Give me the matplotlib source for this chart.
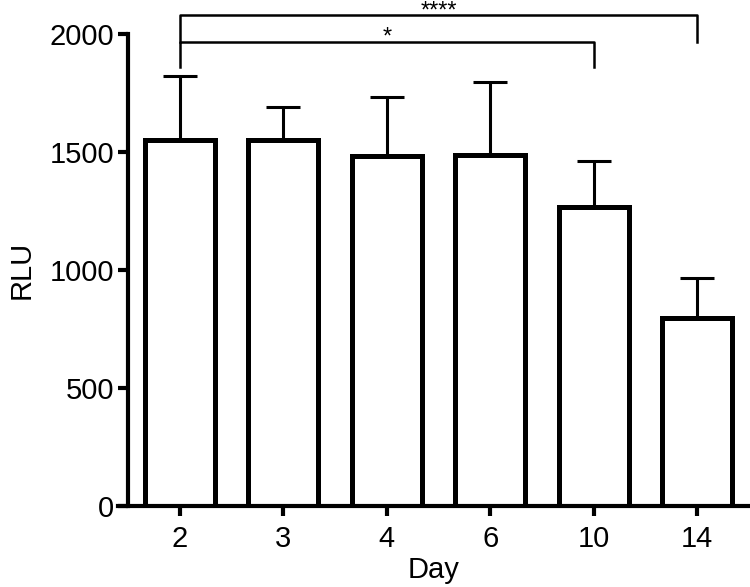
import matplotlib.pyplot as plt
import numpy as np

plt.rcParams['font.family'] = ['Liberation Sans', 'DejaVu Sans']

days = ["2", "3", "4", "6", "10", "14"]
rlu_mean = [1551, 1551, 1483, 1487, 1267, 797]
rlu_sd = [272, 140, 250, 310, 195, 169]

# significance comparisons: (index a, index b, label, bracket height, leg bottom)
comparisons = [
    (0, 4, "*", 1966, 1860),
    (0, 5, "****", 2080, 1966),
]

fig = plt.figure(figsize=(7.5, 5.87), dpi=100)
ax = fig.add_axes([0.157, 0.138, 0.843, 0.804])

x = np.arange(len(days))
ax.bar(x, rlu_mean, width=0.68, color="white", edgecolor="black", linewidth=3.6, zorder=2)
ax.errorbar(x, rlu_mean, yerr=[np.zeros(len(days)), rlu_sd], fmt="none",
            ecolor="black", elinewidth=2.2, capsize=12, capthick=2.2, zorder=1)

for a, b, label, h, low in comparisons:
    ax.plot([a, a, b, b], [low, h, h, low], color="black", lw=1.8, clip_on=False)
    ax.text((a + b) / 2, h - 8, label, ha="center", va="baseline", fontsize=17, clip_on=False)

ax.set_xlim(-0.6, 5.51)
ax.set_ylim(0, 2000)
ax.set_xticks(x)
ax.set_xticklabels(days)
ax.set_yticks([0, 500, 1000, 1500, 2000])

ax.spines["top"].set_visible(False)
ax.spines["right"].set_visible(False)
ax.spines["left"].set_position(("data", -0.5))
for s in ["left", "bottom"]:
    ax.spines[s].set_linewidth(3)
ax.tick_params(axis="both", width=3, length=7, labelsize=21)
ax.tick_params(axis="x", pad=7)
ax.tick_params(axis="y", pad=3)

ax.set_xlabel("Day", fontsize=21, labelpad=2)
ax.set_ylabel("RLU", fontsize=21, labelpad=10)

fig.savefig("out.png", dpi=100)
